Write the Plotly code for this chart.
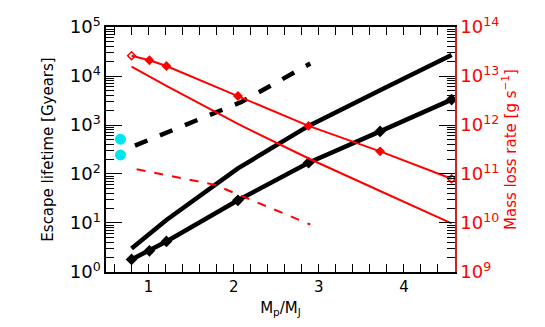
import plotly.graph_objects as go
import numpy as np

# ---- data ----
mass_pts = [0.80, 1.01, 1.21, 2.05, 2.88, 3.72, 4.56]
life_lower = [1.8, 2.7, 4.2, 29, 170, 740, 3300]          # black solid with diamonds
mass_upper = [0.80, 1.21, 2.05, 2.88, 3.72, 4.56]
life_upper = [3.0, 11.5, 130, 960, 5100, 27000]            # black solid, no markers
mass_dash = [0.84, 2.09, 2.90]
life_dash = [380, 2950, 18000]                             # black dashed
mdot_upper = [2.6e13, 2.1e13, 1.6e13, 3.9e12, 9.6e11, 2.9e11, 8.0e10]  # red with diamonds
mass_red_lower = [0.80, 1.21, 2.05, 2.90, 3.72, 4.56]
mdot_lower = [1.55e13, 6.3e12, 1.05e12, 2.0e11, 4.5e10, 9.8e9]       # red solid
mass_red_dash = [0.86, 1.78, 2.90]
mdot_dash = [1.25e11, 6.0e10, 9.3e9]                       # red dashed
mass_cyan = [0.67, 0.67]
life_cyan = [515, 245]

x_ticks = [1, 2, 3, 4]
y_dec = [0, 1, 2, 3, 4, 5]
y2_dec = [9, 10, 11, 12, 13, 14]

RED = "#ff0000"
FONT = "DejaVu Sans"

fig = go.Figure()

fig.add_trace(go.Scatter(x=mass_upper, y=life_upper, mode="lines",
                         line=dict(color="black", width=4.5)))
fig.add_trace(go.Scatter(x=mass_pts, y=life_lower, mode="lines+markers",
                         line=dict(color="black", width=4.5),
                         marker=dict(symbol="diamond", size=9, color="black")))
fig.add_trace(go.Scatter(x=mass_dash, y=life_dash, mode="lines",
                         line=dict(color="black", width=4.5, dash="dash")))
fig.add_trace(go.Scatter(x=mass_cyan, y=life_cyan, mode="markers",
                         marker=dict(symbol="circle", size=11, color="#00e5ee")))

sym = ["diamond-open"] + ["diamond"] * (len(mdot_upper) - 2) + ["diamond-open"]
fig.add_trace(go.Scatter(x=mass_pts, y=mdot_upper, mode="lines+markers", yaxis="y2",
                         line=dict(color=RED, width=2),
                         marker=dict(symbol=sym, size=6, color=RED,
                                     line=dict(color=RED, width=1.5))))
fig.add_trace(go.Scatter(x=mass_red_lower, y=mdot_lower, mode="lines", yaxis="y2",
                         line=dict(color=RED, width=2)))
fig.add_trace(go.Scatter(x=mass_red_dash, y=mdot_dash, mode="lines", yaxis="y2",
                         line=dict(color=RED, width=2, dash="dash")))

minor_y = [np.log10(m) + d for d in range(0, 5) for m in range(2, 10)]
minor_y_vals = [10 ** v for v in minor_y]
minor_y2_vals = [10 ** (v + 9) for v in minor_y]

fig.update_layout(
    width=545, height=327,
    margin=dict(l=98, r=98, t=6, b=63),
    paper_bgcolor="white", plot_bgcolor="white",
    showlegend=False,
    font=dict(family=FONT, color="black"),
    xaxis=dict(
        range=[0.5, 4.6], showgrid=False, zeroline=False,
        showline=True, linecolor="black", linewidth=1.5, mirror="allticks",
        ticks="inside", ticklen=8, tickcolor="black",
        tickvals=x_ticks, ticktext=[str(v) for v in x_ticks],
        tickfont=dict(size=15),
        minor=dict(dtick=0.2, tick0=0, ticks="inside", ticklen=4, tickcolor="black"),
        title=dict(text="M<sub>p</sub>/M<sub>J</sub>", font=dict(size=15), standoff=8),
    ),
    yaxis=dict(
        type="log", range=[-0.001, 5.001], showgrid=False, zeroline=False,
        showline=True, linecolor="black", linewidth=1.5,
        ticks="inside", ticklen=16, tickcolor="black",
        tickvals=[10 ** d for d in y_dec],
        ticktext=[f"10<sup>{d}</sup>" for d in y_dec],
        tickfont=dict(size=18), ticklabeloverflow="allow",
        minor=dict(tickvals=minor_y_vals, ticks="inside", ticklen=8, tickcolor="black"),
        title=dict(text="Escape lifetime [Gyears]", font=dict(size=15), standoff=12),
    ),
    yaxis2=dict(
        type="log", range=[8.999, 14.001], overlaying="y", side="right",
        showgrid=False, zeroline=False,
        showline=True, linecolor="#cc2222", linewidth=1.5,
        ticks="inside", ticklen=16, tickcolor="black",
        tickvals=[10 ** d for d in y2_dec],
        ticktext=[f"10<sup>{d}</sup>" for d in y2_dec],
        tickfont=dict(size=18, color=RED), ticklabeloverflow="allow",
        minor=dict(tickvals=minor_y2_vals, ticks="inside", ticklen=8, tickcolor="black"),
        title=dict(text="Mass loss rate [g s<sup>−1</sup>]", font=dict(size=15, color=RED),
                   standoff=0),
    ),
)

fig.write_html("out.html")
